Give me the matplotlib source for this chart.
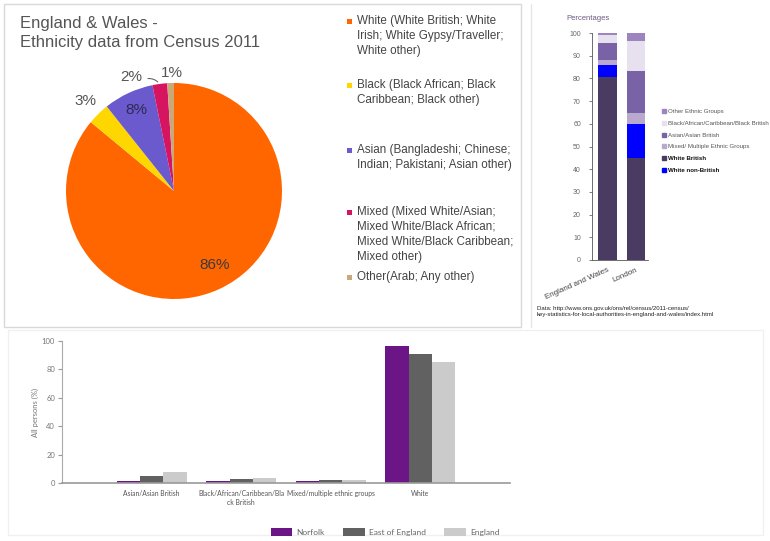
import numpy as np
import matplotlib
matplotlib.use("Agg")
import matplotlib.pyplot as plt
from matplotlib.lines import Line2D
from matplotlib.patches import Rectangle

W, H = 770, 541

# pie: England & Wales ethnicity, census 2011
pie_labels = ["White (White British; White\nIrish; White Gypsy/Traveller;\nWhite other)",
              "Black (Black African; Black\nCaribbean; Black other)",
              "Asian (Bangladeshi; Chinese;\nIndian; Pakistani; Asian other)",
              "Mixed (Mixed White/Asian;\nMixed White/Black African;\nMixed White/Black Caribbean;\nMixed other)",
              "Other(Arab; Any other)"]
pie_values = [86.0, 3.3, 7.5, 2.2, 1.0]
pie_colors = ["#ff6600", "#ffd700", "#6a5acd", "#d6145f", "#c9a97a"]

# stacked bars: England and Wales vs London
areas = ["England and Wales", "London"]
stack_names = ["White British", "White non-British", "Mixed/ Multiple Ethnic Groups",
               "Asian/Asian British", "Black/African/Caribbean/Black British",
               "Other Ethnic Groups"]
stack_values = {
    "White British": [80.5, 44.9],
    "White non-British": [5.5, 14.9],
    "Mixed/ Multiple Ethnic Groups": [2.2, 5.0],
    "Asian/Asian British": [7.5, 18.5],
    "Black/African/Caribbean/Black British": [3.3, 13.3],
    "Other Ethnic Groups": [1.0, 3.4],
}
stack_colors = ["#4a3b62", "#0000ff", "#b9a9cf", "#7a62a6", "#e6e0ef", "#9b84c0"]
legend_order = [5, 4, 3, 2, 0, 1]

# grouped bars: Norfolk / East of England / England
groups = ["Asian/Asian British", "Black/African/Caribbean/Bla\nck British",
          "Mixed/multiple ethnic groups", "White"]
norfolk = [1.5, 1.1, 1.3, 96.5]
east_england = [4.8, 2.5, 1.9, 90.8]
england = [7.8, 3.5, 2.3, 85.4]


def px_axes(fig, x0, y0, x1, y1):
    # pixel box (top-left origin) -> figure axes
    return fig.add_axes([x0 / W, 1 - y1 / H, (x1 - x0) / W, (y1 - y0) / H])


fig = plt.figure(figsize=(W / 100, H / 100), dpi=100)
fig.patch.set_facecolor("white")

# overlay for borders / manual legend
ov = fig.add_axes([0, 0, 1, 1], zorder=-1)
ov.set_xlim(0, W)
ov.set_ylim(H, 0)
ov.axis("off")
ov.add_patch(Rectangle((4, 4), 517, 323, fill=False, ec="#d9d9d9", lw=1))
ov.add_patch(Rectangle((8, 330), 755, 205, fill=False, ec="#f0f0f0", lw=1))
ov.plot([531, 531], [4, 327], color="#e6e6e6", lw=1)

# ---------- pie ----------
pf = "Liberation Sans"
R = 108
cx, cy = 174, 191
pad = 1.02
axp = px_axes(fig, cx - R * pad, cy - R * pad, cx + R * pad, cy + R * pad)
wedges, _ = axp.pie(pie_values, colors=pie_colors, startangle=90, counterclock=False,
                    wedgeprops=dict(linewidth=0))
axp.set_xlim(-pad, pad)
axp.set_ylim(-pad, pad)
axp.set_aspect("equal")

lab_r = [0.78, 1.17, 0.83, 1.13, 1.09]
lab_shift = [4, 0, 0, 13, -1]
lab_col = ["#3a3a3a", "#555555", "#2e2a55", "#555555", "#555555"]
for w, v, r, s, c in zip(wedges, pie_values, lab_r, lab_shift, lab_col):
    ang = np.deg2rad((w.theta1 + w.theta2) / 2)
    a2 = ang + np.deg2rad(s)
    axp.text(r * np.cos(a2), r * np.sin(a2), f"{round(v):d}%", ha="center", va="center",
             fontsize=11, color=c, family=pf)
    if s > 5:
        axp.annotate("", xy=(1.0 * np.cos(ang), 1.0 * np.sin(ang)),
                     xytext=(r * np.cos(a2) + 0.13, r * np.sin(a2) - 0.02),
                     arrowprops=dict(arrowstyle="-", color="#666666", lw=0.8,
                                     connectionstyle="arc3,rad=-0.3"))

fig.text(20 / W, 1 - 16 / H, "England & Wales -\nEthnicity data from Census 2011",
         ha="left", va="top", fontsize=12, color="#555555", family=pf, linespacing=1.3)

leg_top = [15, 79, 144, 206, 271]
for lab, col, yt in zip(pie_labels, pie_colors, leg_top):
    ov.add_patch(Rectangle((347, yt + 4), 5, 5, color=col, lw=0))
    ov.text(357, yt, lab, ha="left", va="top", fontsize=8.4, color="#444444",
            family=pf, linespacing=1.32)

# ---------- stacked bars ----------
axs = px_axes(fig, 592, 33, 648, 260)
xs = np.arange(len(areas))
bottom = np.zeros(len(areas))
handles = []
for name, col in zip(stack_names, stack_colors):
    vals = np.array(stack_values[name])
    axs.bar(xs, vals, 0.66, bottom=bottom, color=col, lw=0)
    bottom += vals
    handles.append(Line2D([], [], marker="s", ls="", color=col, markersize=2.5))
axs.set_xlim(-0.55, 1.42)
axs.set_ylim(0, 100)
axs.set_yticks(range(0, 101, 10))
axs.tick_params(axis="y", labelsize=5, colors="#666666", length=2, width=0.6, pad=6)
axs.tick_params(axis="x", length=0, labelsize=5.8, labelcolor="#444444", pad=5)
axs.set_xticks(xs)
axs.set_xticklabels(areas, rotation=24, ha="right", rotation_mode="anchor", family=pf)
for t in axs.get_yticklabels():
    t.set_family(pf)
for sp in ["top", "right"]:
    axs.spines[sp].set_visible(False)
for sp in ["left", "bottom"]:
    axs.spines[sp].set_color("#555555")
    axs.spines[sp].set_linewidth(0.6)
fig.text(566 / W, 1 - 18 / H, "Percentages", fontsize=5.5, color="#6b5a7e",
         family=pf, va="center")
leg = axs.legend([handles[i] for i in legend_order], [stack_names[i] for i in legend_order],
                 loc="upper left", bbox_to_anchor=(662 / W, 1 - 109 / H),
                 bbox_transform=fig.transFigure, frameon=False, fontsize=4.4,
                 labelspacing=1.05, handlelength=0.6, handletextpad=0.3, borderpad=0,
                 borderaxespad=0)
for t in leg.get_texts():
    t.set_color("#555555")
    t.set_family(pf)
for t in leg.get_texts()[-2:]:
    t.set_fontweight("bold")
    t.set_color("#111111")
fig.text(537 / W, 1 - 306 / H,
         "Data: http://www.ons.gov.uk/ons/rel/census/2011-census/\n"
         "key-statistics-for-local-authorities-in-england-and-wales/index.html",
         fontsize=4.3, color="#222222", family=pf, va="top", linespacing=1.3)

# ---------- grouped bars ----------
lf = "Lato"
axg = px_axes(fig, 62, 341, 510, 483)
gx = np.arange(1, len(groups) + 1)
bw = 0.26
axg.bar(gx - bw, norfolk, bw, color="#6b1587", label="Norfolk", lw=0)
axg.bar(gx, east_england, bw, color="#616161", label="East of England", lw=0)
axg.bar(gx + bw, england, bw, color="#cbcbcb", label="England", lw=0)
axg.set_xlim(0, 5)
axg.set_ylim(0, 100)
axg.set_yticks(range(0, 101, 20))
axg.set_xticks(gx)
axg.set_xticklabels(groups, family=lf, linespacing=1.3)
axg.tick_params(axis="x", length=0, labelsize=4.9, labelcolor="#555555", pad=5)
axg.tick_params(axis="y", length=3, width=0.8, color="#999999", labelsize=5.5,
                labelcolor="#777777", pad=2)
for t in axg.get_yticklabels():
    t.set_family(lf)
for sp in ["top", "right"]:
    axg.spines[sp].set_visible(False)
axg.spines["left"].set_color("#aaaaaa")
axg.spines["left"].set_linewidth(0.8)
axg.spines["bottom"].set_color("#999999")
axg.spines["bottom"].set_linewidth(1.2)
axg.set_ylabel("All persons (%)", fontsize=5.5, color="#777777", family=lf, labelpad=2)
lg = axg.legend(loc="center", bbox_to_anchor=(385 / W, 1 - 532 / H),
                bbox_transform=fig.transFigure, ncol=3, frameon=False, fontsize=6,
                handlelength=2.6, handleheight=1.0, columnspacing=2.2, handletextpad=0.5)
for t in lg.get_texts():
    t.set_color("#666666")
    t.set_family(lf)

fig.savefig("out.png", dpi=100)
